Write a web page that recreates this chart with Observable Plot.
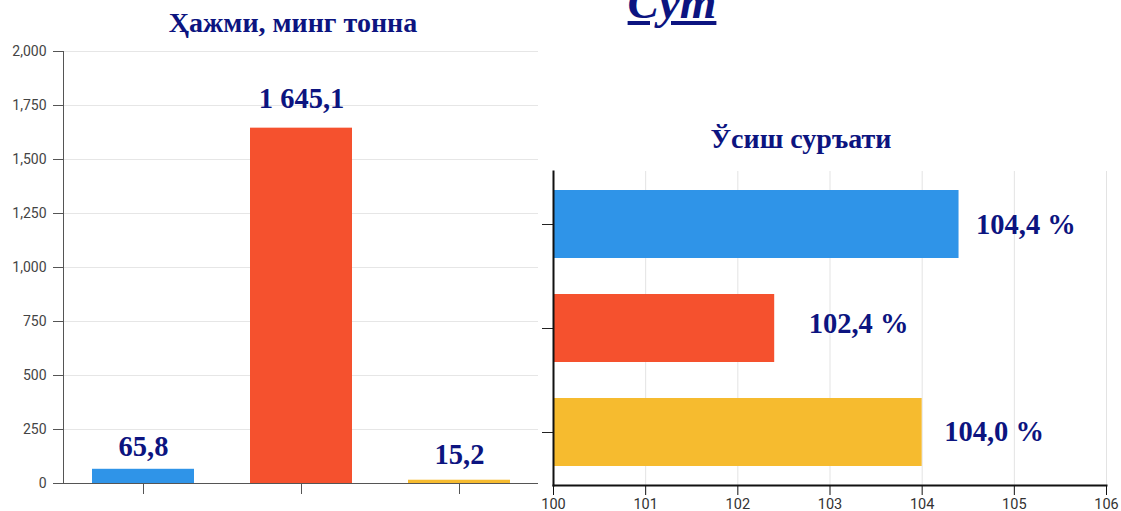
<!DOCTYPE html>
<html><head><meta charset="utf-8">
<script src="https://cdn.jsdelivr.net/npm/d3@7"></script>
<script src="https://cdn.jsdelivr.net/npm/@observablehq/plot@0.6"></script>
<style>
html,body{margin:0;padding:0;background:#fff}
body{width:1121px;height:511px;overflow:hidden;position:relative;font-family:Roboto,sans-serif}
.t{position:absolute;font-family:"Liberation Serif",serif;font-weight:bold;color:#0c1480;white-space:nowrap;transform:translateX(-50%);line-height:1}
#left{position:absolute;left:0;top:0}
#right{position:absolute;left:540px;top:0}
svg{background:transparent}
</style></head><body>
<div id="left"></div><div id="right"></div>
<div class="t" style="left:293px;top:9px;font-size:28px">Ҳажми, минг тонна</div>
<div class="t" style="left:672px;top:-21px;font-size:47px;font-style:italic;text-decoration:underline">Сут</div>
<div class="t" style="left:801px;top:125px;font-size:28px">Ўсиш суръати</div>
<script>
// categories (not labelled in the chart)
const categories = ["фермер", "деҳқон", "ташкилот"];
const colors = ["#2f94e8", "#f5512e", "#f6bb2f"];
// volume, thousand tonnes
const volumes = [65.8, 1645.1, 15.2];
const volumeLabels = ["65,8", "1 645,1", "15,2"];
// growth rate, %
const growth = [104.4, 102.4, 104.0];
const growthLabels = ["104,4 %", "102,4 %", "104,0 %"];
// tick values
const yTicks = [0, 250, 500, 750, 1000, 1250, 1500, 1750, 2000];
const xTicks = [100, 101, 102, 103, 104, 105, 106];

const volData = categories.map((c, i) => ({cat: c, v: volumes[i], label: volumeLabels[i], color: colors[i]}));
const growData = categories.map((c, i) => ({cat: c, g: growth[i], label: growthLabels[i], color: colors[i]}));

const navy = "#0c1480";
const valueFont = {fontFamily: "Liberation Serif", fontWeight: "bold", fontSize: 28.5, fill: navy};

const volDy = [-13, -20, -16];
const left = Plot.plot({
  width: 540, height: 511,
  marginLeft: 63, marginRight: 2, marginTop: 51, marginBottom: 28,
  style: {background: "transparent", fontFamily: "Roboto"},
  x: {domain: categories, paddingInner: 0.356, paddingOuter: 0.178},
  y: {domain: [0, 2000]},
  color: {type: "identity"},
  marks: [
    Plot.gridY(yTicks, {stroke: "#e6e6e6", strokeOpacity: 1}),
    Plot.barY(volData, {x: "cat", y: "v", fill: "color"}),
    Plot.ruleY([0], {stroke: "#555"}),
    Plot.frame({anchor: "left", stroke: "#555"}),
    Plot.axisY(yTicks, {tickSize: 10, tickPadding: 7, stroke: "#555", fill: "#444", fontSize: 14, label: null, tickFormat: d => d.toLocaleString("en-US")}),
    Plot.axisX({tickSize: 11, stroke: "#555", tickFormat: () => "", label: null}),
    ...volData.map((d, i) => Plot.text([d], {x: "cat", y: "v", text: "label", lineAnchor: "bottom", dy: volDy[i], ...valueFont}))
  ]
});
document.getElementById("left").appendChild(left);

const growDx = [17, 34, 22];
const growDy = [0, -5, -1];
const right = Plot.plot({
  width: 581, height: 511,
  marginLeft: 13, marginRight: 15, marginTop: 171, marginBottom: 26,
  style: {background: "transparent", fontFamily: "Roboto"},
  x: {domain: [100, 106]},
  y: {domain: categories, paddingInner: 0.35, paddingOuter: 0.175},
  color: {type: "identity"},
  marks: [
    Plot.gridX(xTicks, {stroke: "#e3e3e3", strokeOpacity: 1}),
    Plot.barX(growData, {x1: 100, x2: "g", y: "cat", fill: "color"}),
    Plot.axisX(xTicks, {tickSize: 10, tickPadding: 3, stroke: "#111", fill: "#333", fontSize: 14.5, label: null}),
    Plot.axisY({tickSize: 11, stroke: "#222", tickFormat: () => "", label: null}),
    Plot.frame({anchor: "left", stroke: "#111", strokeWidth: 2}),
    Plot.frame({anchor: "bottom", stroke: "#111", strokeWidth: 2}),
    ...growData.map((d, i) => Plot.text([d], {x: "g", y: "cat", text: "label", textAnchor: "start", dx: growDx[i], dy: growDy[i], ...valueFont}))
  ]
});
document.getElementById("right").appendChild(right);
</script>
</body></html>
